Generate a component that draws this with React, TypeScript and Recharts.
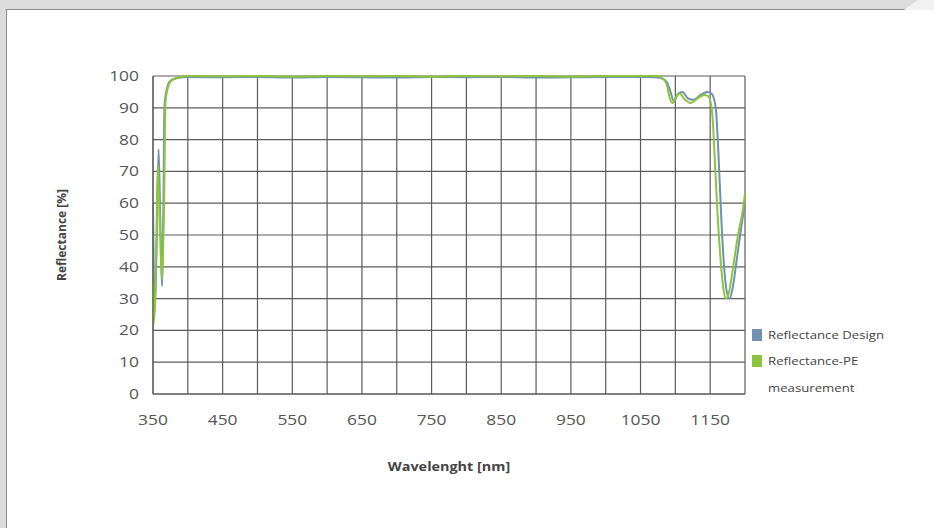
import { LineChart, Line, XAxis, YAxis, CartesianGrid, Label } from "recharts";

const X_TICKS = [350, 400, 450, 500, 550, 600, 650, 700, 750, 800, 850, 900, 950, 1000, 1050, 1100, 1150, 1200];
const X_LABELS = [350, 450, 550, 650, 750, 850, 950, 1050, 1150];
const Y_TICKS = [0, 10, 20, 30, 40, 50, 60, 70, 80, 90, 100];

// Reflectance Design (nm / %)
const DESIGN_NM = [350, 351, 352, 354, 356, 358, 360, 362, 363, 364, 365, 366, 367, 370, 375, 385, 400, 450, 500, 550, 600, 650, 700, 750, 800, 850, 900, 950, 1000, 1050, 1070, 1080, 1088, 1093, 1098, 1104, 1110, 1118, 1126, 1136, 1146, 1152, 1158, 1162, 1166, 1170, 1174, 1178, 1182, 1188, 1195, 1200];
const DESIGN_R = [60, 40, 25, 35, 55, 77, 60, 40, 34, 45, 60, 85, 92, 96, 98.5, 99.4, 99.7, 99.6, 99.7, 99.5, 99.7, 99.6, 99.5, 99.7, 99.6, 99.7, 99.5, 99.6, 99.7, 99.7, 99.6, 99.3, 98, 95, 92, 94.5, 95, 93, 92.5, 94, 95, 94.5, 90, 75, 55, 40, 32, 30, 33, 42, 53, 60];

// Reflectance-PE measurement (nm / %)
const MEAS_NM = [350, 351, 353, 355, 357, 359, 361, 363, 365, 366, 367, 368, 371, 376, 386, 400, 450, 500, 550, 600, 650, 700, 750, 800, 850, 900, 950, 1000, 1050, 1075, 1083, 1088, 1092, 1096, 1101, 1106, 1114, 1122, 1132, 1142, 1148, 1153, 1157, 1161, 1165, 1169, 1173, 1177, 1183, 1190, 1197, 1200];
const MEAS_R = [35, 22, 30, 50, 72, 60, 45, 36, 50, 60, 80, 92, 96, 98.5, 99.5, 100, 99.9, 100, 99.8, 100, 99.9, 100, 99.8, 100, 99.9, 100, 99.8, 100, 100, 100, 99, 97, 93, 91.5, 93.5, 94.5, 92.5, 91.5, 93, 94, 93.5, 88, 72, 55, 42, 33, 30, 32, 40, 50, 58, 63];

const design = DESIGN_NM.map((nm, i) => ({ nm, r: DESIGN_R[i] }));
const measurement = MEAS_NM.map((nm, i) => ({ nm, r: MEAS_R[i] }));

const BLUE = "#7191b3";
const GREEN = "#8cc43c";
const FONT = "'Open Sans', sans-serif";
const STRETCH = 1.2;

const LEGEND = [
  { color: BLUE, lines: ["Reflectance Design"] },
  { color: GREEN, lines: ["Reflectance-PE", "measurement"] },
];

function XTick(props: any) {
  const { x, y, payload } = props;
  if (!X_LABELS.includes(payload.value)) return null;
  return (
    <g transform={`translate(${x},${y + 31}) scale(${STRETCH},1)`}>
      <text textAnchor="middle" fontSize={14.5} fill="#555" fontFamily={FONT}>
        {payload.value}
      </text>
    </g>
  );
}

function YTick(props: any) {
  const { x, y, payload } = props;
  return (
    <g transform={`translate(${x - 14},${y + 5}) scale(${STRETCH},1)`}>
      <text textAnchor="end" fontSize={14.5} fill="#555" fontFamily={FONT}>
        {payload.value}
      </text>
    </g>
  );
}

function LegendBox() {
  return (
    <svg width={180} height={80} style={{ position: "absolute", left: 752, top: 329, overflow: "visible" }}>
      {LEGEND.map((it, i) => (
        <g key={i} transform={`translate(0,${i * 26})`}>
          <rect x={0} y={0} width={10} height={12} fill={it.color} />
          {it.lines.map((l, j) => (
            <g key={j} transform={`translate(16,${10 + j * 27}) scale(${STRETCH},1)`}>
              <text fontSize={11} fill="#444" fontFamily={FONT}>{l}</text>
            </g>
          ))}
        </g>
      ))}
    </svg>
  );
}

export default function App() {
  return (
    <div style={{ position: "absolute", left: 0, top: 0, width: 934, height: 528, background: "#dcdcdc", overflow: "hidden" }}>
      <div
        style={{
          position: "absolute",
          left: 6,
          top: 9,
          width: 928,
          height: 519,
          background: "#fff",
          borderTop: "1px solid #8c8c8c",
          borderLeft: "1px solid #8c8c8c",
        }}
      />
      <svg style={{ position: "absolute", left: 0, top: 0 }} width={934} height={12}>
        <polygon points="904,10 934,10 934,0 918,0" fill="#f2f2f2" />
      </svg>
      <div style={{ position: "absolute", left: 0, top: 0 }}>
        <LineChart width={934} height={528} margin={{ top: 76, right: 189, left: 0, bottom: 54 }}>
          <CartesianGrid stroke="#5c5c5c" strokeWidth={1.2} />
          <XAxis
            dataKey="nm"
            type="number"
            domain={[350, 1200]}
            ticks={X_TICKS}
            interval={0}
            allowDuplicatedCategory={false}
            height={80}
            tickSize={0}
            tickMargin={0}
            tick={<XTick />}
            stroke="#555"
          >
            <Label
              content={(p: any) => {
                const vb = p.viewBox;
                return (
                  <g transform={`translate(${vb.x + vb.width / 2},${vb.y + 77}) scale(${STRETCH},1)`}>
                    <text textAnchor="middle" fontSize={12} fontWeight="bold" fill="#444" fontFamily={FONT}>
                      Wavelenght [nm]
                    </text>
                  </g>
                );
              }}
            />
          </XAxis>
          <YAxis
            type="number"
            domain={[0, 100]}
            ticks={Y_TICKS}
            interval={0}
            width={153}
            tickSize={0}
            tickMargin={0}
            tick={<YTick />}
            stroke="#555"
          >
            <Label
              content={(p: any) => {
                const vb = p.viewBox;
                return (
                  <g transform={`translate(${vb.x + 66},${vb.y + vb.height / 2}) rotate(-90)`}>
                    <text textAnchor="middle" fontSize={12} fontWeight="bold" fill="#444" fontFamily={FONT}>
                      Reflectance [%]
                    </text>
                  </g>
                );
              }}
            />
          </YAxis>
          <Line
            data={design}
            dataKey="r"
            name="Reflectance Design"
            type="monotone"
            stroke={BLUE}
            strokeWidth={2}
            dot={false}
            isAnimationActive={false}
          />
          <Line
            data={measurement}
            dataKey="r"
            name="Reflectance-PE measurement"
            type="monotone"
            stroke={GREEN}
            strokeWidth={2}
            dot={false}
            isAnimationActive={false}
          />
        </LineChart>
      </div>
      <LegendBox />
    </div>
  );
}
